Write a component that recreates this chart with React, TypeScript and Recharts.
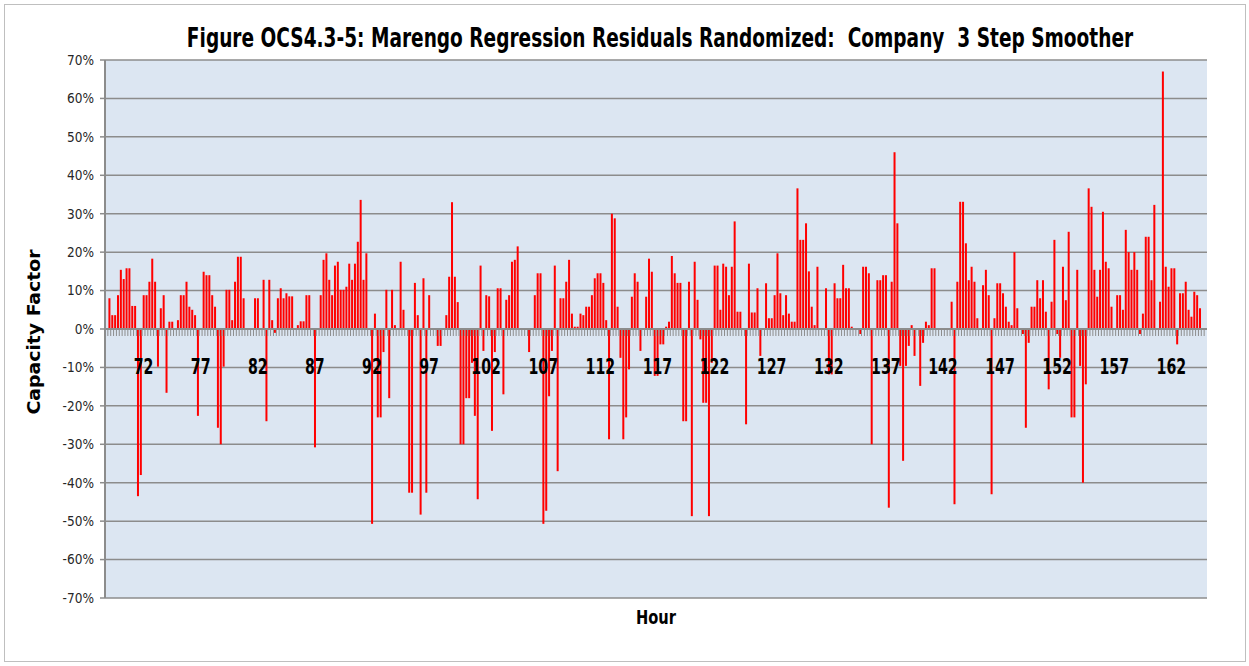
import { Bar, BarChart, CartesianGrid, ReferenceLine, XAxis, YAxis } from "recharts";

// residuals in %, one bar per 15 minutes, first bar at hour 68.75
const firstHour = 68.75;
const stepsPerHour = 4;

const hours68to71 = [0, 8, 3.6, 3.6, 8.8, 15.4, 13, 15.8, 15.8, 6, 6, -43.5, -38];
const hours72to76 = [8.8, 8.8, 12.3, 18.3, 12.3, -9.8, 5.4, 8.8, -16.6, 1.9, 1.9, 0, 2.3, 8.8, 8.8, 12.3, 5.8, 5, 3.6, -22.6];
const hours77to81 = [0, 14.9, 14, 14, 8.8, 5.8, -25.7, -30, -9.8, 10.2, 10.2, 2.3, 12.3, 18.8, 18.8, 8, 0, 0, 0, 8];
const hours82to86 = [8, 0, 12.8, -24, 12.8, 2.3, -1, 8, 10.6, 8, 9.3, 8.5, 8.5, 0, 1, 2, 2, 8.8, 8.8, 0];
const hours87to91 = [-30.8, 0, 8.8, 18, 19.7, 12.8, 8.8, 16.5, 17.5, 10.2, 10.2, 11, 17, 12.8, 17, 22.7, 33.6, 12.8, 19.7, 0];
const hours92to96 = [-50.7, 4, -23, -23, -6, 10.2, -18, 10.2, 1, 0, 17.5, 5, 0, -42.6, -42.6, 12, 3.6, -48.3, 13.2, -42.6];
const hours97to101 = [8.8, 0, 0, -4.4, -4.4, 0, 3.6, 13.6, 33, 13.6, 7, -30, -30, -18, -18, -8.8, -22.6, -44.3, 16.5, -5.7];
const hours102to106 = [8.8, 8.5, -26.5, -6, 10.6, 10.6, -17, 7.6, 8.8, 17.5, 18, 21.5, 0, 0, 0, -6, 0, 8.8, 14.5, 14.5];
const hours107to111 = [-50.7, -47.3, -17.5, -5.7, 16.5, -37, 8, 8, 12.3, 18, 4, 0.6, 0.6, 4, 3.6, 5.8, 5.8, 8.8, 13.2, 14.5];
const hours112to116 = [14.5, 12, 2.3, -28.7, 30, 28.8, 5.8, -7.5, -28.7, -23, -10.5, 8.4, 14.5, 12.3, -5.7, 0, 8.4, 18.3, 14.9, -12.2];
const hours117to121 = [-12.2, -4, -4, 0.6, 1.9, 19, 14.5, 12, 12, -24, -24, 12.3, -48.7, 17.5, 7.6, -2.7, -19.2, -19.2, -48.7, -8.8];
const hours122to126 = [16.5, 16.5, 5, 17, 16.2, 8.8, 16.2, 28, 4.5, 4.5, 0, -24.8, 17, 4.3, 4.3, 10.6, -7, 0, 11.9, 2.8];
const hours127to131 = [2.8, 8.8, 19.7, 9.3, 3.6, 8.8, 4, 1.9, 1.9, 36.6, 23.2, 23.2, 27.5, 15, 5.8, 1, 16.2, 0, 0, 10.6];
const hours132to136 = [-11.8, -11.8, 11.9, 8, 8, 16.7, 10.6, 10.6, 0.6, 0, 0, -1.3, 16.2, 16.2, 14.5, -30, 0, 12.7, 12.7, 14];
const hours137to141 = [14, -46.5, 12.3, 46, 27.5, -9.6, -34.3, -9.6, -4.4, 1, -7, 0, -14.8, -3.6, 1.9, 1, 15.8, 15.8, 0, 0];
const hours142to146 = [0, 0, 0, 7.1, -45.6, 12.3, 33.1, 33.1, 22.3, 12.7, 16.2, 12.3, 2.8, 0, 11.4, 15.4, 8.8, -43, 2.8, 11.9];
const hours147to151 = [11.9, 9.3, 5.8, 1.9, 1, 20, 5.4, 0, -1.3, -25.7, -3.6, 5.8, 5.8, 12.7, 8, 12.7, 4.5, -15.7, 7.1, 23.2];
const hours152to156 = [-1.3, -7.5, 16.2, 7.5, 25.3, -23, -23, 15.4, -9.6, -40, -14.4, 36.6, 31.8, 15.4, 8.4, 15.4, 30.5, 17.5, 15.8, 5.8];
const hours157to161 = [0, 8.8, 8.8, 5, 25.8, 20, 15.4, 20, 15.4, -1.3, 4, 24, 24, 12.7, 32.3, 0, 7.1, 67, 16.2, 11];
const hours162to165 = [15.8, 15.8, -4, 9.3, 9.3, 12.3, 5, 3.2, 9.7, 8.8, 5.4, 0, 0];

const labelHours = [72, 77, 82, 87, 92, 97, 102, 107, 112, 117, 122, 127, 132, 137, 142, 147, 152, 157, 162];
const yTicks = [-70, -60, -50, -40, -30, -20, -10, 0, 10, 20, 30, 40, 50, 60, 70];

const residuals = [
  ...hours68to71,
  ...hours72to76,
  ...hours77to81,
  ...hours82to86,
  ...hours87to91,
  ...hours92to96,
  ...hours97to101,
  ...hours102to106,
  ...hours107to111,
  ...hours112to116,
  ...hours117to121,
  ...hours122to126,
  ...hours127to131,
  ...hours132to136,
  ...hours137to141,
  ...hours142to146,
  ...hours147to151,
  ...hours152to156,
  ...hours157to161,
  ...hours162to165,
];

const data = residuals.map((value, i) => ({
  hour: firstHour + i / stepsPerHour,
  value,
}));

const W = 1249;
const H = 666;
const plotLeft = 105;
const plotRight = 1207;
const plotTop = 60;
const plotBottom = 598;
const bandWidth = (plotRight - plotLeft) / data.length;

const font = "'DejaVu Sans Condensed', 'DejaVu Sans', sans-serif";
const gridColor = "#8c8c8c";
const barColor = "#ff0000";

function HourTick(props: any) {
  const { x, y, payload } = props;
  // category axis crosses the value axis at 0%, which is mid-plot
  const zeroY = y - (plotBottom - plotTop) / 2;
  const tx = x - bandWidth / 2;
  const show = labelHours.includes(payload.value);
  return (
    <g>
      <line x1={tx} x2={tx} y1={zeroY} y2={zeroY + 7} stroke={gridColor} strokeWidth={1} />
      {show ? (
        <text
          transform={`translate(${x} ${zeroY + 45}) scale(0.75 1)`}
          textAnchor="middle"
          fontFamily={font}
          fontWeight="bold"
          fontSize={21}
          fill="#000"
        >
          {payload.value}
        </text>
      ) : null}
    </g>
  );
}

function ResidualBar(props: any) {
  const { x, y, width, height } = props;
  if (!height) return null;
  const top = Math.min(y, y + height);
  return <rect x={x} y={top} width={width} height={Math.abs(height)} fill={barColor} stroke="none" />;
}

export default function App() {
  return (
    <div style={{ position: "absolute", left: 0, top: 0, width: W, height: H, background: "#fff" }}>
      <div
        style={{
          position: "absolute",
          left: 4,
          top: 4,
          width: 1240,
          height: 656,
          border: "1px solid #bfbfbf",
        }}
      />
      <BarChart
        width={W}
        height={H}
        data={data}
        margin={{ top: plotTop, right: W - plotRight, bottom: 0, left: 0 }}
        barCategoryGap="20%"
      >
        <CartesianGrid
          vertical={false}
          stroke={gridColor}
          strokeWidth={1.5}
          fill="#dce6f2"
          fillOpacity={1}
        />
        <XAxis
          dataKey="hour"
          type="category"
          interval={0}
          height={H - plotBottom}
          axisLine={false}
          tickLine={false}
          tickSize={0}
          tickMargin={0}
          tick={<HourTick />}
        />
        <YAxis
          domain={[-70, 70]}
          ticks={yTicks}
          width={plotLeft}
          allowDataOverflow
          tickFormatter={(v) => `${v}%`}
          axisLine={{ stroke: gridColor, strokeWidth: 2 }}
          tickLine={{ stroke: gridColor, strokeWidth: 1.5 }}
          tickSize={5}
          tickMargin={6}
          tick={{ fontFamily: font, fontSize: 13.5, fill: "#262626" }}
        />
        <Bar dataKey="value" fill={barColor} shape={<ResidualBar />} isAnimationActive={false} />
        <ReferenceLine y={0} stroke={gridColor} strokeWidth={2} />
      </BarChart>
      <svg
        width={W}
        height={H}
        style={{ position: "absolute", left: 0, top: 0, pointerEvents: "none" }}
      >
        <text
          transform="translate(660 47) scale(0.82 1)"
          textAnchor="middle"
          fontFamily={font}
          fontWeight="bold"
          fontSize={26}
          textLength={1154}
          lengthAdjust="spacingAndGlyphs"
          style={{ whiteSpace: "pre" }}
          fill="#000"
        >
          Figure OCS4.3-5: Marengo Regression Residuals Randomized:  Company  3 Step Smoother
        </text>
        <text
          x={40}
          y={332}
          transform="rotate(-90 40 332)"
          textAnchor="middle"
          fontFamily={font}
          fontWeight="bold"
          fontSize={18}
          textLength={165}
          lengthAdjust="spacingAndGlyphs"
          fill="#000"
        >
          Capacity Factor
        </text>
        <text
          x={656}
          y={624}
          textAnchor="middle"
          fontFamily={font}
          fontWeight="bold"
          fontSize={20}
          textLength={40}
          lengthAdjust="spacingAndGlyphs"
          fill="#000"
        >
          Hour
        </text>
      </svg>
    </div>
  );
}
